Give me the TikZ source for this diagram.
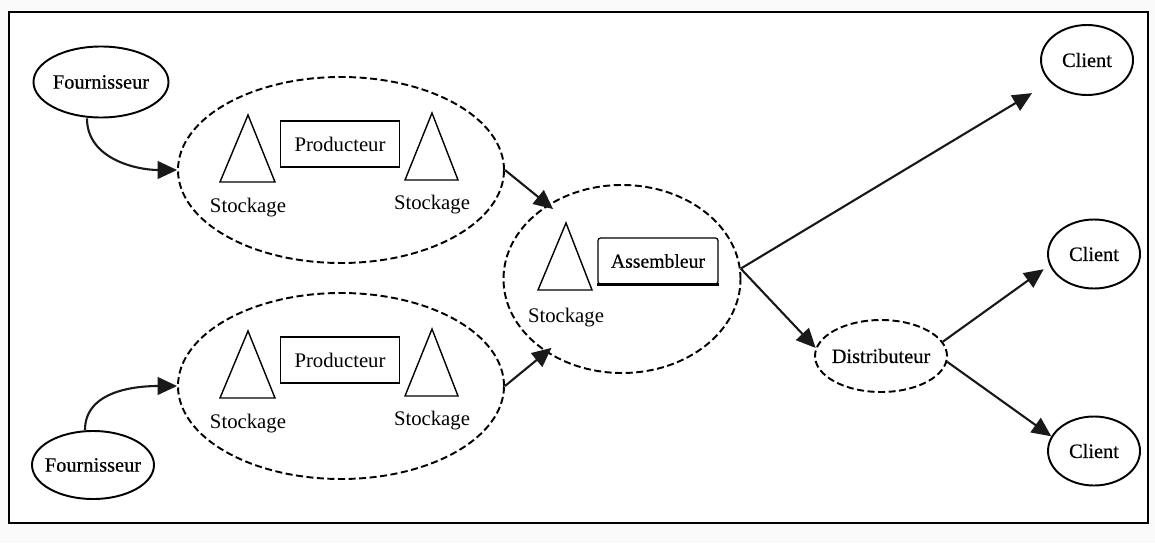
\documentclass[tikz,border=0pt]{standalone}
\usepackage{fontspec}
\setmainfont{Liberation Serif}
\newfontfamily\heavyfont[FakeBold=0.4]{Liberation Serif}
\usetikzlibrary{arrows.meta,shapes.geometric}
\tikzset{
  solidell/.style={draw,ellipse,line width=1.1pt,inner sep=-6pt},
  dashell/.style={draw,ellipse,line width=1.1pt,inner sep=-6pt,dash pattern=on 4pt off 2pt},
  prodbox/.style={draw,line width=0.7pt,minimum width=2.38cm,minimum height=0.92cm,inner sep=0pt},
  flowarrow/.style={-{Triangle[length=11pt,width=10pt]},line width=1.2pt,black!90},
  stocktri/.style={line width=0.8pt},
  lbl/.style={inner sep=0pt,font=\fontsize{11.8}{14}\selectfont},
  heavylbl/.style={font=\fontsize{11.6}{14}\selectfont\heavyfont}
}
\begin{document}
\begin{tikzpicture}[x=0.2mm,y=0.2mm,lbl]
  % Page and frame
  \useasboundingbox (0,0) rectangle (1155,543);
  \fill[black!2] (0,0) rectangle (1155,543);
  \draw[line width=1.5pt,fill=white] (9,20) rectangle (1148,531);

  % Producers with their stocks
  \foreach \n/\s in {A/0,B/-216} {
    \begin{scope}[yshift=\s*0.2mm]
      \node[dashell,minimum width=6.52cm,minimum height=3.72cm] (prod\n) at (341,373) {};
      \node[prodbox,lbl] (box\n) at (340,399) {Producteur};
      % Triangles
      \draw[stocktri] (248,428) -- (275,361) -- (220,361) -- cycle;
      \draw[stocktri] (432,430) -- (458,363) -- (405,363) -- cycle;
      \node[lbl] (stockL\n) at (248,335) {Stockage};
      \node[lbl] (stockR\n) at (432,338) {Stockage};
    \end{scope}
  }

  % Suppliers
  \node[solidell,heavylbl,minimum width=2.7cm,minimum height=1.42cm] (fournA) at (101,461) {Fournisseur};
  \node[solidell,heavylbl,minimum width=2.44cm,minimum height=1.36cm] (fournB) at (93,78) {Fournisseur};

  % Assembler
  \node[dashell,minimum width=4.74cm,minimum height=3.76cm] (asm) at (622,264) {};
  \draw[stocktri] (566,320) -- (592,253) -- (538,253) -- cycle;
  \node[lbl] (stockC) at (566,225) {Stockage};
  \node[draw,line width=0.7pt,rounded corners=1.5pt,minimum width=2.4cm,minimum height=0.92cm,inner sep=0pt,heavylbl,font=\fontsize{11.2}{14}\selectfont\heavyfont] (asmbox) at (658,282) {Assembleur};
  \draw[line width=1.3pt] (asmbox.south west) -- (asmbox.south east);

  % Distributor and customers
  \node[dashell,heavylbl,minimum width=2.64cm,minimum height=1.44cm] (dist) at (881,187) {Distributeur};
  \node[solidell,heavylbl,minimum width=1.84cm,minimum height=1.4cm] (clientA) at (1087,483) {Client};
  \node[solidell,heavylbl,minimum width=1.84cm,minimum height=1.38cm] (clientB) at (1094,289) {Client};
  \node[solidell,heavylbl,minimum width=1.84cm,minimum height=1.38cm] (clientC) at (1094,92) {Client};

  % Flows
  \draw[flowarrow] (fournA.south) ++(-14,0) coordinate (startA) to[out=-90,in=180] (prodA.west);
  \draw[flowarrow] (fournB.north) ++(-8,0) coordinate (startB) to[out=90,in=180] (prodB.west);
  \draw[flowarrow,shorten >=-4pt] (prodA.east) -- (asm.135);
  \draw[flowarrow,shorten >=-4pt] (prodB.east) -- (asm.224);
  \draw[flowarrow,shorten >=12pt] (asm.5) -- (clientA);
  \draw[flowarrow] (asm.5) -- (dist.173);
  \draw[flowarrow,shorten >=4pt] (dist.13) -- (clientB.194);
  \draw[flowarrow] (dist.-5) -- (clientC.161);
\end{tikzpicture}
\end{document}
